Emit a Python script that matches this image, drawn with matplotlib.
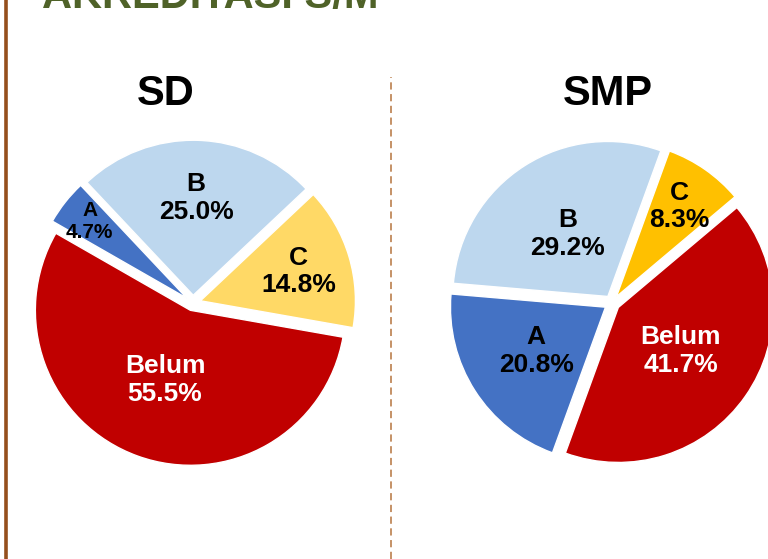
import numpy as np
import matplotlib
matplotlib.use('Agg')
import matplotlib.pyplot as plt
from matplotlib.lines import Line2D

plt.rcParams['font.family'] = ['Liberation Sans', 'DejaVu Sans']

# Data
categories = ['A', 'B', 'C', 'Belum']
sd_values = [4.7, 25.0, 14.8, 55.5]
smp_values = [20.8, 29.2, 8.3, 41.7]
sd_colors = ['#4472C4', '#BDD7EE', '#FFD966', '#C00000']
smp_colors = ['#4472C4', '#BDD7EE', '#FFC000', '#C00000']
label_colors = ['black', 'black', 'black', 'white']

W, H = 768, 559
R = 155  # pie radius in px
fig = plt.figure(figsize=(W / 100, H / 100), dpi=100)


def px_axes(cx, cy, half):
    # square axes centred on pixel (cx, cy) measured from top-left
    return fig.add_axes([(cx - half) / W, (H - cy - half) / H, 2 * half / W, 2 * half / H])


def draw_pie(cx, cy, values, colors, start, label_r, sizes, title, title_x):
    half = R * 1.2
    ax = px_axes(cx, cy, half)
    wedges, _ = ax.pie(values, colors=colors, startangle=start, counterclock=False,
                       explode=[0.05] * len(values), radius=1,
                       wedgeprops=dict(edgecolor='white', linewidth=1))
    ax.set_xlim(-1.2, 1.2)
    ax.set_ylim(-1.2, 1.2)
    ax.set_aspect('equal')
    ax.axis('off')
    for w, cat, v, r, col, fs in zip(wedges, categories, values, label_r, label_colors, sizes):
        ang = np.deg2rad((w.theta1 + w.theta2) / 2)
        x0, y0 = w.center
        ax.text(x0 + r * np.cos(ang), y0 + r * np.sin(ang), f'{cat}\n{v:.1f}%',
                ha='center', va='center', fontsize=fs, fontweight='bold', color=col,
                linespacing=1.2)
    fig.text(title_x / W, 1 - 94 / H, title, ha='center', va='center',
             fontsize=30, fontweight='bold')


draw_pie(193, 303, sd_values, sd_colors, 150.2, [0.80, 0.63, 0.66, 0.48],
         [15, 19, 19, 19], 'SD', 166)
draw_pie(612, 303, smp_values, smp_colors, -110, [0.53, 0.48, 0.71, 0.49],
         [19, 19, 19, 19], 'SMP', 608)

# slide decoration: cut-off heading, left rule and dotted divider
fig.text(42 / W, 1 - 8 / H, 'AKREDITASI S/M', ha='left', va='baseline',
         fontsize=30, fontweight='bold', color='#4F6228')
fig.add_artist(Line2D([5.5 / W, 5.5 / W], [0, 1], color='#954F1C', linewidth=2.6))
fig.add_artist(Line2D([391 / W, 391 / W], [0, 1 - 77 / H], color='#C0895A',
                      linewidth=1.3, linestyle=(0, (4, 2.5))))

fig.savefig('out.png', dpi=100)
